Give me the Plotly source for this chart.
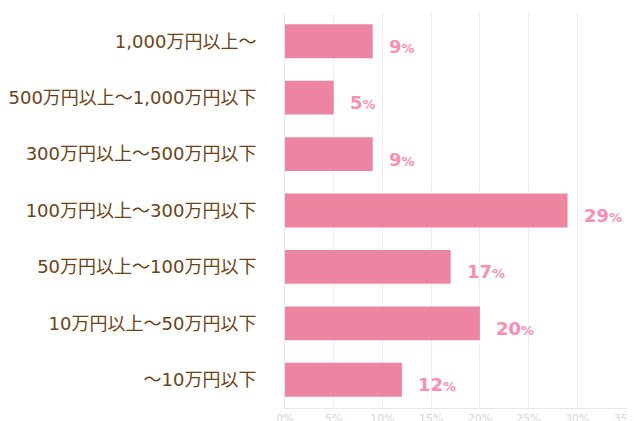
import plotly.graph_objects as go

categories = ["1,000万円以上～", "500万円以上～1,000万円以下", "300万円以上～500万円以下",
              "100万円以上～300万円以下", "50万円以上～100万円以下", "10万円以上～50万円以下", "～10万円以下"]
values = [9, 5, 9, 29, 17, 20, 12]
tick_vals = [0, 5, 10, 15, 20, 25, 30, 35]
tick_text = [f"{v}%" for v in tick_vals]

BAR = "#ec84a2"
LABEL = "#fb8db3"
BROWN = "#6e4214"
FONT = "DejaVu Sans, Noto Sans CJK JP"

fig = go.Figure()
fig.add_trace(go.Bar(
    x=values, y=categories, orientation="h",
    marker=dict(color=BAR, line=dict(width=0)),
    width=0.6, hoverinfo="skip",
))

for c, v in zip(categories, values):
    fig.add_annotation(
        x=v, y=c, xref="x", yref="y", xanchor="left", yanchor="middle",
        xshift=14, yshift=-5, showarrow=False,
        text=f"<b>{v}</b><span style='font-size:13px'><b>%</b></span>",
        font=dict(family="DejaVu Sans", size=18, color=LABEL),
    )

fig.update_layout(
    width=634, height=421,
    margin=dict(l=277, r=16, t=5, b=21, autoexpand=False),
    paper_bgcolor="white", plot_bgcolor="white",
    showlegend=False, bargap=0.4,
    font=dict(family=FONT),
)
fig.update_xaxes(
    range=[0, 35], tickvals=tick_vals, ticktext=tick_text,
    showgrid=True, gridcolor="#eeeeee", gridwidth=1,
    zeroline=False, showline=True, linecolor="#e6e6e6", mirror=False,
    tickfont=dict(family="DejaVu Sans", size=11, color="#d6d6d6"), fixedrange=True,
    automargin=False, ticklabelstandoff=0,
)
fig.update_yaxes(
    autorange="reversed", showgrid=False, zeroline=False,
    showline=True, linecolor="#e6e6e6", automargin=False,
    tickfont=dict(family=FONT, size=18, color=BROWN), ticklabelstandoff=24,
)

fig.write_html("out.html")
